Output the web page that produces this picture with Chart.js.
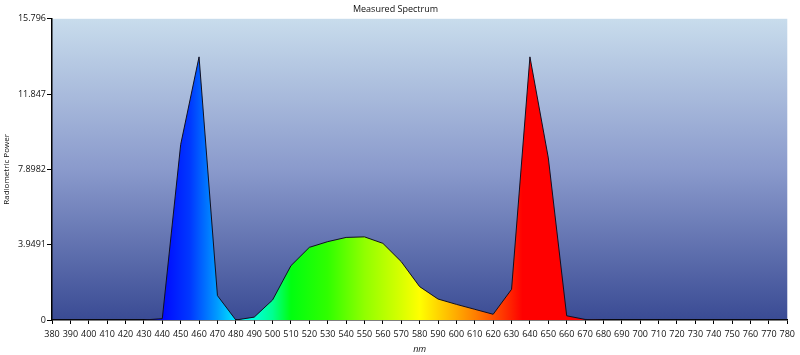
<!DOCTYPE html>
<html>
<head>
<meta charset="utf-8">
<script src="https://cdn.jsdelivr.net/npm/chart.js@4"></script>
<style>
  html, body { margin: 0; padding: 0; background: #ffffff; }
  #wrap { width: 800px; height: 355px; position: relative; }
</style>
</head>
<body>
<div id="wrap"><canvas id="c" width="800" height="355"></canvas></div>
<script>
const wavelengths = [380,390,400,410,420,430,440,450,460,470,480,490,500,510,520,530,540,550,560,570,580,590,600,610,620,630,640,650,660,670,680,690,700,710,720,730,740,750,760,770,780];
const radiometricPower = [0,0,0,0,0,0,0.07,9.2,13.8,1.28,0,0.15,1.05,2.85,3.81,4.11,4.33,4.36,4.02,3.06,1.75,1.1,0.82,0.56,0.3,1.61,13.8,8.5,0.22,0.03,0,0,0,0,0,0,0,0,0,0,0];
const yTickValues = [0, 3.9491, 7.8982, 11.847, 15.796];
const yTickLabels = ['0', '3.9491', '7.8982', '11.847', '15.796'];
const spectrumStops = [
  [440, '#0008ff'], [455, '#0038ff'], [470, '#009cff'], [480, '#00e8ff'],
  [490, '#00ffd8'], [500, '#00ff90'], [510, '#00ff10'], [530, '#30ff00'],
  [550, '#90ff00'], [570, '#d8ff00'], [580, '#ffff00'], [595, '#ffc000'],
  [610, '#ff8000'], [625, '#ff3800'], [636, '#ff0000'], [680, '#ff0000']
];

const points = wavelengths.map((w, i) => ({ x: w, y: radiometricPower[i] }));

const bgPlugin = {
  id: 'plotBg',
  beforeDraw(chart) {
    const { ctx, chartArea: a } = chart;
    if (!a) return;
    const g = ctx.createLinearGradient(0, a.top, 0, a.bottom);
    g.addColorStop(0, '#c8dcec');
    g.addColorStop(0.5, '#8a9acc');
    g.addColorStop(1, '#3a4b94');
    ctx.save();
    ctx.fillStyle = g;
    ctx.fillRect(a.left, a.top, a.right - a.left, a.bottom - a.top);
    ctx.restore();
  }
};

function spectrumFill(context) {
  const chart = context.chart;
  const a = chart.chartArea;
  if (!a) return '#00ff00';
  const xs = chart.scales.x;
  const x0 = xs.getPixelForValue(wavelengths[0]);
  const x1 = xs.getPixelForValue(wavelengths[wavelengths.length - 1]);
  const g = chart.ctx.createLinearGradient(x0, 0, x1, 0);
  const span = wavelengths[wavelengths.length - 1] - wavelengths[0];
  spectrumStops.forEach(([w, c]) => g.addColorStop((w - wavelengths[0]) / span, c));
  return g;
}

new Chart(document.getElementById('c'), {
  type: 'line',
  data: {
    datasets: [{
      data: points,
      fill: 'origin',
      backgroundColor: spectrumFill,
      borderColor: '#101020',
      borderWidth: 1,
      pointRadius: 0,
      tension: 0
    }]
  },
  plugins: [bgPlugin],
  options: {
    responsive: false,
    animation: false,
    layout: { padding: { left: 0, right: 9, top: 0, bottom: 0 } },
    plugins: {
      legend: { display: false },
      tooltip: { enabled: false },
      title: {
        display: true,
        text: 'Measured Spectrum',
        color: '#111',
        font: { family: 'Open Sans', size: 9, weight: 'normal' },
        padding: { top: 4, bottom: 4 }
      }
    },
    scales: {
      x: {
        type: 'linear',
        min: wavelengths[0],
        max: wavelengths[wavelengths.length - 1],
        afterBuildTicks(scale) { scale.ticks = wavelengths.map(v => ({ value: v })); },
        afterFit(scale) { scale.height = 35; },
        ticks: {
          autoSkip: false,
          maxRotation: 0,
          color: '#111',
          padding: 5,
          font: { family: 'Open Sans', size: 9 }
        },
        grid: { drawOnChartArea: false, drawTicks: true, tickLength: 4, color: '#000' },
        border: { display: true, color: '#000', width: 1.5 },
        title: {
          display: true,
          text: 'nm',
          color: '#111',
          padding: { top: 0, bottom: 0 },
          font: { family: 'Open Sans', size: 9, style: 'italic' }
        }
      },
      y: {
        type: 'linear',
        min: 0,
        max: yTickValues[yTickValues.length - 1],
        afterBuildTicks(scale) { scale.ticks = yTickValues.map(v => ({ value: v })); },
        afterFit(scale) { scale.width = 52; },
        ticks: {
          color: '#111',
          padding: 1,
          font: { family: 'Open Sans', size: 9 },
          callback(v) {
            const i = yTickValues.indexOf(v);
            return i >= 0 ? yTickLabels[i] : '';
          }
        },
        grid: { drawOnChartArea: false, drawTicks: true, tickLength: 5, color: '#000' },
        border: { display: true, color: '#000', width: 1.5 },
        title: {
          display: true,
          text: 'Radiometric Power',
          color: '#111',
          padding: { top: 2, bottom: 0 },
          font: { family: 'Open Sans', size: 8 }
        }
      }
    }
  }
});
</script>
</body>
</html>
